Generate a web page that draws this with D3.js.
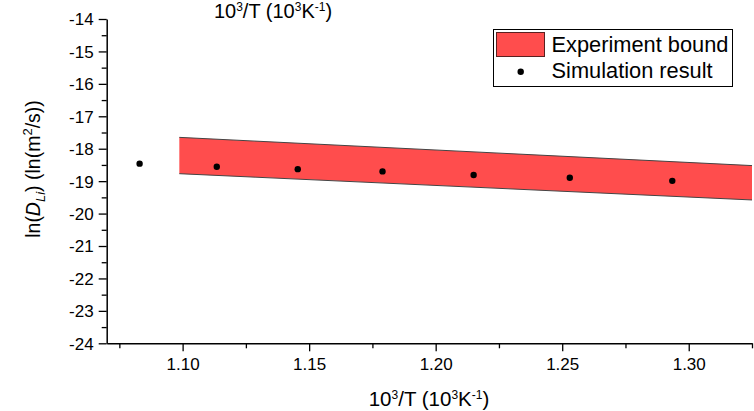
<!DOCTYPE html>
<html>
<head>
<meta charset="utf-8">
<script src="https://cdn.jsdelivr.net/npm/d3@7"></script>
<style>
  html, body { margin: 0; padding: 0; background: #fff; }
  svg { display: block; font-family: "Liberation Sans", Arial, sans-serif; }
</style>
</head>
<body>
<svg id="chart" width="754" height="411"></svg>
<script>
// Simulation points: inverse temperature (1000/T) and ln(D_Li)
const simX = [1.083, 1.1135, 1.1455, 1.179, 1.215, 1.253, 1.2935];
const simY = [-18.46, -18.555, -18.63, -18.70, -18.81, -18.895, -18.99];

// Experimental bound: upper and lower lines over the measured range
const boundX = [1.0987, 1.325];
const boundUpper = [-17.65, -18.52];
const boundLower = [-18.77, -19.58];

// Axis ticks
const xTicks = [1.10, 1.15, 1.20, 1.25, 1.30];
const xMinor = [1.075, 1.125, 1.175, 1.225, 1.275, 1.325];
const yTicks = [-14, -15, -16, -17, -18, -19, -20, -21, -22, -23, -24];
const yMinor = [-14.5, -15.5, -16.5, -17.5, -18.5, -19.5, -20.5, -21.5, -22.5, -23.5];

const legendLabels = ["Experiment bound", "Simulation result"];

const svg = d3.select("#chart");
const plotLeft = 106.7, plotRight = 752, plotTop = 19, plotBottom = 343.3;

const x = d3.scaleLinear().domain([1.07, 1.325]).range([plotLeft, plotRight]);
const y = d3.scaleLinear().domain([-24, -14]).range([plotBottom, plotTop]);

// Band between the two bound lines
const band = boundX.map((v, i) => ({ x: v, hi: boundUpper[i], lo: boundLower[i] }));
svg.append("path")
  .datum(band)
  .attr("fill", "#ff4d4d")
  .attr("d", d3.area().x(d => x(d.x)).y0(d => y(d.lo)).y1(d => y(d.hi)));
["hi", "lo"].forEach(k => {
  svg.append("path")
    .datum(band)
    .attr("fill", "none")
    .attr("stroke", "#444")
    .attr("stroke-width", 1)
    .attr("d", d3.line().x(d => x(d.x)).y(d => y(d[k])));
});

// Simulation points
svg.append("g").selectAll("circle")
  .data(simX.map((v, i) => [v, simY[i]]))
  .join("circle")
  .attr("cx", d => x(d[0]))
  .attr("cy", d => y(d[1]))
  .attr("r", 3.2)
  .attr("fill", "#000");

// Axes (plain hyphen for negative labels)
const fmtX = d3.format(".2f");
const fmtY = d => String(d);
const xAxis = svg.append("g").attr("transform", `translate(0,${plotBottom})`)
  .call(d3.axisBottom(x).tickValues(xTicks).tickFormat(fmtX).tickSize(8).tickPadding(7).tickSizeOuter(0));
const xAxisMinor = svg.append("g").attr("transform", `translate(0,${plotBottom})`)
  .call(d3.axisBottom(x).tickValues(xMinor).tickFormat("").tickSize(5).tickSizeOuter(0));
const yAxis = svg.append("g").attr("transform", `translate(${plotLeft},0)`)
  .call(d3.axisLeft(y).tickValues(yTicks).tickFormat(fmtY).tickSize(8).tickPadding(5).tickSizeOuter(0));
const yAxisMinor = svg.append("g").attr("transform", `translate(${plotLeft},0)`)
  .call(d3.axisLeft(y).tickValues(yMinor).tickFormat("").tickSize(5).tickSizeOuter(0));

[xAxis, xAxisMinor, yAxis, yAxisMinor].forEach(g => {
  g.select(".domain").attr("stroke", "#000").attr("stroke-width", 1.5);
  g.selectAll(".tick line").attr("stroke", "#000").attr("stroke-width", 1.3);
  g.selectAll(".tick text").attr("fill", "#000").attr("font-size", 17)
    .attr("font-family", "Liberation Sans, Arial, sans-serif");
});
xAxisMinor.select(".domain").remove();
yAxisMinor.select(".domain").remove();
yAxis.selectAll(".tick text").attr("dy", "0.35em");

// Axis title with superscripts
function xTitle(sel) {
  sel.append("tspan").text("10");
  sel.append("tspan").attr("dy", -7).attr("font-size", 12).text("3");
  sel.append("tspan").attr("dy", 7).text("/T (10");
  sel.append("tspan").attr("dy", -7).attr("font-size", 12).text("3");
  sel.append("tspan").attr("dy", 7).text("K");
  sel.append("tspan").attr("dy", -7).attr("font-size", 12).text("-1");
  sel.append("tspan").attr("dy", 7).text(")");
}

svg.append("text").attr("x", 429).attr("y", 406).attr("text-anchor", "middle")
  .attr("font-size", 20.5).attr("fill", "#000").call(xTitle);
svg.append("text").attr("x", 273).attr("y", 18).attr("text-anchor", "middle")
  .attr("font-size", 20).attr("fill", "#000").call(xTitle);

// Y title: ln(D_Li) (ln(m^2/s))
const yt = svg.append("text")
  .attr("transform", "translate(40,169) rotate(-90)")
  .attr("text-anchor", "middle").attr("font-size", 19.5).attr("fill", "#000");
yt.append("tspan").text("ln(");
yt.append("tspan").attr("font-style", "italic").text("D");
yt.append("tspan").attr("dy", 5).attr("font-size", 13).attr("font-style", "italic").text("Li");
yt.append("tspan").attr("dy", -5).text(") (ln(m");
yt.append("tspan").attr("dy", -8).attr("font-size", 13).text("2");
yt.append("tspan").attr("dy", 8).text("/s))");

// Legend
const lg = svg.append("g");
lg.append("rect").attr("x", 493.5).attr("y", 29.5).attr("width", 239).attr("height", 57)
  .attr("fill", "#fff").attr("stroke", "#000").attr("stroke-width", 1);
lg.append("rect").attr("x", 496.5).attr("y", 32.5).attr("width", 48).attr("height", 24)
  .attr("fill", "#ff4d4d").attr("stroke", "#5a2020").attr("stroke-width", 1);
lg.append("circle").attr("cx", 520.7).attr("cy", 71.7).attr("r", 3.2).attr("fill", "#000");
lg.selectAll("text.lbl").data(legendLabels).join("text").attr("class", "lbl")
  .attr("x", 551.5).attr("y", (d, i) => 51.7 + i * 26.6)
  .attr("font-size", 21.8).attr("fill", "#000").text(d => d);
</script>
</body>
</html>
